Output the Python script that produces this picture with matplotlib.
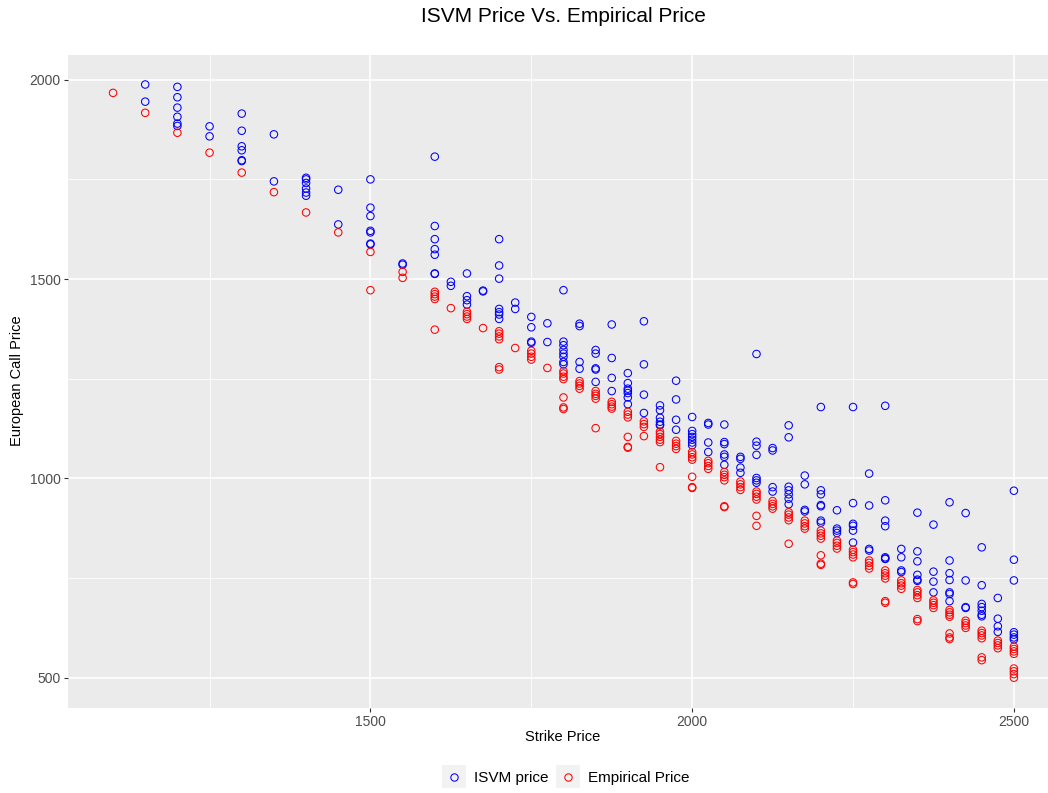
import matplotlib
matplotlib.use("Agg")
from matplotlib import pyplot as plt
from matplotlib.lines import Line2D
from matplotlib.patches import Rectangle
from matplotlib.legend_handler import HandlerLine2D
from matplotlib.ticker import MultipleLocator

plt.rcParams['font.family'] = ['Liberation Sans', 'DejaVu Sans']

# strike prices (one column of points per strike)
strikes = [1100, 1150, 1200, 1250, 1300, 1350, 1400, 1450, 1500, 1550,
           1600, 1625, 1650, 1675, 1700, 1725, 1750, 1775, 1800, 1825,
           1850, 1875, 1900, 1925, 1950, 1975, 2000, 2025, 2050, 2075,
           2100, 2125, 2150, 2175, 2200, 2225, 2250, 2275, 2300, 2325,
           2350, 2375, 2400, 2425, 2450, 2475, 2500]

# ISVM prices per strike
isvm_price = [
    [],
    [1988, 1945],
    [1982, 1956, 1930, 1907, 1890, 1884],
    [1883, 1858],
    [1915, 1872, 1833, 1823, 1798, 1796],
    [1863, 1745],
    [1754, 1750, 1741, 1727, 1717, 1709],
    [1724, 1637],
    [1750, 1679, 1658, 1621, 1617, 1589, 1587],
    [1539, 1536],
    [1807, 1633, 1600, 1575, 1561, 1514, 1513],
    [1493, 1483],
    [1514, 1457, 1447, 1436],
    [1471, 1469],
    [1600, 1534, 1501, 1425, 1417, 1411, 1400],
    [1441, 1425],
    [1405, 1379, 1343, 1340],
    [1389, 1342],
    [1472, 1343, 1334, 1322, 1313, 1305, 1292, 1286],
    [1388, 1382, 1292, 1275],
    [1322, 1313, 1276, 1273, 1242],
    [1386, 1302, 1252, 1219],
    [1264, 1239, 1225, 1220, 1214, 1203, 1186],
    [1394, 1286, 1210, 1164],
    [1183, 1171, 1152, 1142, 1135, 1133],
    [1245, 1198, 1147, 1122],
    [1154, 1119, 1111, 1104, 1097, 1090, 1083],
    [1139, 1135, 1090, 1066],
    [1135, 1091, 1086, 1060, 1054, 1034],
    [1054, 1049, 1027, 1014],
    [1312, 1092, 1082, 1059, 1001, 995, 989],
    [1076, 1070, 978, 967],
    [1133, 1103, 979, 970, 960, 949, 935],
    [1007, 985, 921, 917],
    [1179, 970, 960, 933, 930, 894, 889],
    [920, 874, 869, 863],
    [1179, 938, 886, 881, 869, 839],
    [1012, 932, 823, 819],
    [1182, 945, 894, 880, 802, 799, 798],
    [823, 802, 769, 765],
    [914, 817, 792, 758, 746, 743],
    [884, 766, 741, 714],
    [940, 794, 762, 745, 714, 710, 692],
    [913, 744, 677, 675],
    [827, 732, 685, 677, 668, 658, 654],
    [700, 648, 629, 615],
    [969, 796, 744, 614, 608, 601, 596],
]

# empirical prices per strike
emp_price = [
    [1967],
    [1917],
    [1867],
    [1817],
    [1767],
    [1718],
    [1667],
    [1617],
    [1568, 1472],
    [1518, 1503],
    [1468, 1462, 1456, 1450, 1373],
    [1427],
    [1418, 1412, 1406, 1400],
    [1377],
    [1369, 1363, 1356, 1349, 1279, 1273],
    [1327],
    [1320, 1313, 1305, 1298],
    [1277],
    [1269, 1263, 1255, 1249, 1203, 1178, 1174],
    [1244, 1238, 1232, 1225],
    [1219, 1212, 1207, 1200, 1126],
    [1192, 1186, 1180, 1175],
    [1167, 1160, 1153, 1104, 1079, 1077],
    [1143, 1136, 1129, 1106],
    [1117, 1111, 1104, 1097, 1091, 1028],
    [1094, 1087, 1081, 1074],
    [1066, 1060, 1053, 1047, 1004, 978, 976],
    [1044, 1038, 1031, 1024],
    [1016, 1009, 1003, 995, 930, 928],
    [992, 985, 978, 971],
    [967, 961, 954, 947, 906, 881],
    [943, 936, 930, 924],
    [915, 909, 902, 895, 836],
    [894, 887, 880, 874],
    [869, 862, 856, 849, 807, 786, 783],
    [844, 838, 831, 824],
    [821, 815, 809, 802, 739, 735],
    [794, 788, 781, 774],
    [769, 762, 756, 749, 692, 688],
    [744, 737, 731, 723],
    [720, 714, 707, 700, 647, 642],
    [694, 688, 682, 675],
    [670, 664, 658, 653, 611, 601, 597],
    [643, 637, 631, 625],
    [618, 612, 606, 599, 551, 544],
    [593, 587, 581, 574],
    [578, 572, 566, 560, 523, 516, 509, 500],
]


def flatten(prices):
    xs, ys = [], []
    for k, vals in zip(strikes, prices):
        xs += [k] * len(vals)
        ys += vals
    return xs, ys


class KeyWithBg(HandlerLine2D):
    # ggplot style legend key: grey square behind the symbol
    def create_artists(self, legend, orig_handle, xdescent, ydescent,
                       width, height, fontsize, trans):
        arts = super().create_artists(legend, orig_handle, xdescent, ydescent,
                                      width, height, fontsize, trans)
        y0 = -ydescent + height / 2 - width / 2
        bg = Rectangle((-xdescent, y0), width, width, facecolor="#F2F2F2",
                       edgecolor="none", transform=trans)
        return [bg] + arts


fig = plt.figure(figsize=(10.48, 7.93), dpi=100)
ax = fig.add_axes([68 / 1048, 85 / 793, 980 / 1048, 653 / 793])
ax.set_facecolor("#EBEBEB")

ix, iy = flatten(isvm_price)
ex, ey = flatten(emp_price)
ax.scatter(ix, iy, s=29, facecolors="none", edgecolors="blue", linewidths=0.75, zorder=3)
ax.scatter(ex, ey, s=29, facecolors="none", edgecolors="red", linewidths=0.75, zorder=3)

ax.set_xlim(1030, 2553)
ax.set_ylim(424, 2062)
ax.xaxis.set_major_locator(MultipleLocator(500))
ax.xaxis.set_minor_locator(MultipleLocator(250))
ax.yaxis.set_major_locator(MultipleLocator(500))
ax.yaxis.set_minor_locator(MultipleLocator(250))

ax.grid(which="major", color="white", linewidth=1.2)
ax.grid(which="minor", color="white", linewidth=0.6)
ax.set_axisbelow(True)
for s in ax.spines.values():
    s.set_visible(False)
ax.tick_params(which="major", length=3.2, width=0.8, color="#333333",
               labelcolor="#4D4D4D", labelsize=10, pad=2)
ax.tick_params(which="minor", length=0)

# titles centred on the panel (panel runs past the right edge of the image)
fig.text(563 / 1048, 1 - 17 / 793, "ISVM Price Vs. Empirical Price",
         ha="center", va="center", fontsize=15)
fig.text(563 / 1048, 1 - 737 / 793, "Strike Price", ha="center", va="center", fontsize=10.5)
fig.text(17 / 1048, 1 - 381 / 793, "European Call Price", ha="center", va="center",
         rotation=90, fontsize=10.5)

handles = [Line2D([], [], linestyle="none", marker="o", markersize=5.3,
                  markerfacecolor="none", markeredgecolor="blue", markeredgewidth=0.75),
           Line2D([], [], linestyle="none", marker="o", markersize=5.3,
                  markerfacecolor="none", markeredgecolor="red", markeredgewidth=0.75)]
fig.legend(handles, ["ISVM price", "Empirical Price"], loc="center",
           bbox_to_anchor=(566 / 1048, 1 - 778 / 793), ncol=2, frameon=False,
           fontsize=11, handlelength=1.55, handletextpad=0.55, columnspacing=0.5,
           handler_map={Line2D: KeyWithBg()})

fig.savefig("out.png", dpi=100)
